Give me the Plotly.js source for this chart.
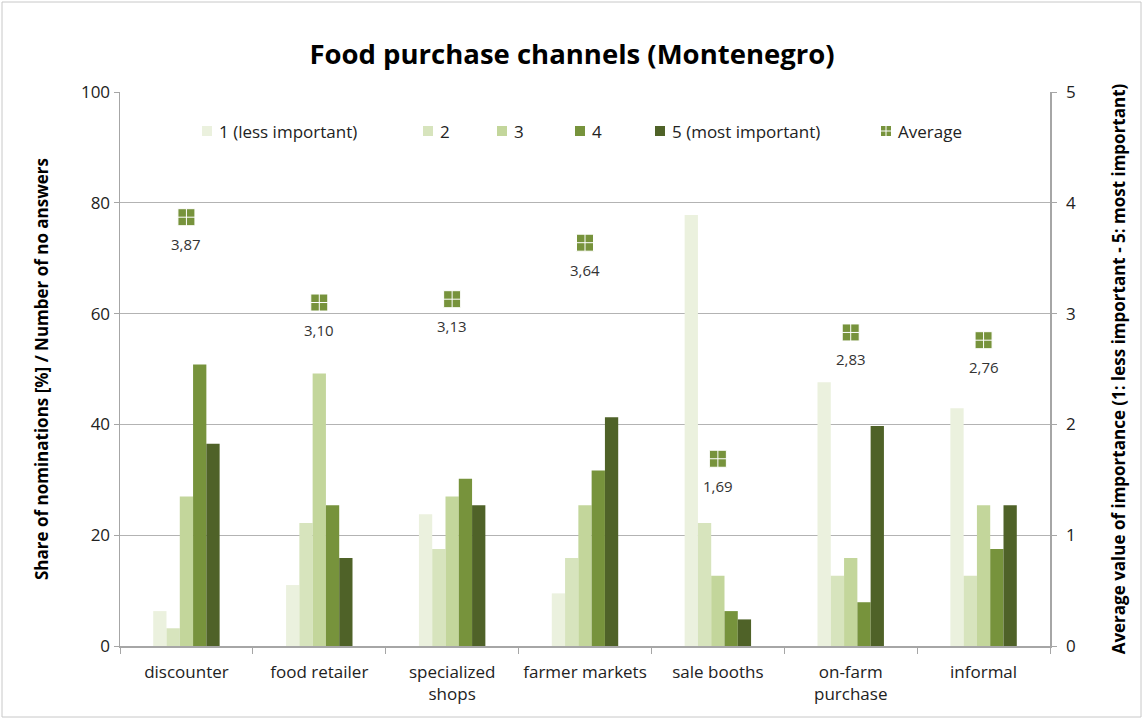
<!DOCTYPE html>
<html><head><meta charset="utf-8">
<script src="https://cdn.plot.ly/plotly-3.0.1.min.js"></script>
<style>html,body{margin:0;padding:0;background:#fff;}#chart{width:1144px;height:719px;}</style>
</head><body><div id="chart"></div>
<script>
var categories = ["discounter", "food retailer", "specialized<br>shops", "farmer markets", "sale booths", "on-farm<br>purchase", "informal"];
var seriesNames = ["1 (less important)", "2", "3", "4", "5 (most important)"];
var s1 = [6.3, 11.0, 23.8, 9.5, 77.8, 47.6, 42.9];
var s2 = [3.2, 22.2, 17.5, 15.9, 22.2, 12.7, 12.7];
var s3 = [27.0, 49.2, 27.0, 25.4, 12.7, 15.9, 25.4];
var s4 = [50.8, 25.4, 30.2, 31.7, 6.3, 7.9, 17.5];
var s5 = [36.5, 15.9, 25.4, 41.3, 4.8, 39.7, 25.4];
var averages = [3.87, 3.10, 3.13, 3.64, 1.69, 2.83, 2.76];
var avgLabels = ["3,87", "3,10", "3,13", "3,64", "1,69", "2,83", "2,76"];
var colors = ["#ebf1de", "#d7e4bd", "#c3d69b", "#77933c", "#4f6228"];
var avgColor = "#77933c";
var FONT = "'Open Sans', Calibri, sans-serif";

var series = [s1, s2, s3, s4, s5];
var traces = series.map(function (vals, i) {
  return {type: "bar", x: categories, y: vals, name: seriesNames[i],
    marker: {color: colors[i]}, showlegend: false, hoverinfo: "y"};
});
traces.push({type: "scatter", mode: "markers", x: categories, y: averages, yaxis: "y2",
  name: "Average", showlegend: false,
  marker: {symbol: "square-cross", size: 17, color: avgColor, line: {color: "#ffffff", width: 1}}});

var annotations = averages.map(function (v, i) {
  return {x: categories[i], y: v, yref: "y2", xref: "x", text: avgLabels[i], showarrow: false,
    yshift: -27, font: {family: FONT, size: 15, color: "#333333"}};
});

var PW = 930, PH = 554;
function px2x(px) { return (px - 120) / PW; }
function py2y(py) { return (646 - py) / PH; }

// custom legend
var legendItems = seriesNames.concat(["Average"]);
var legendX = [202, 423, 497, 575, 655, 881];
var legendColors = colors.concat([avgColor]);
var shapes = [{type: "rect", xref: "paper", yref: "paper", x0: px2x(2), x1: px2x(1141), y0: py2y(717), y1: py2y(2),
  line: {color: "#c8c8c8", width: 1}, fillcolor: "rgba(0,0,0,0)", layer: "below"}];
legendItems.forEach(function (name, i) {
  var px = legendX[i];
  var x0 = px2x(px), x1 = px2x(px + 10);
  var y0 = py2y(136), y1 = py2y(126);
  shapes.push({type: "rect", xref: "paper", yref: "paper", x0: x0, x1: x1, y0: y0, y1: y1,
    line: {width: 0}, fillcolor: legendColors[i]});
  if (name === "Average") {
    var xm = px2x(px + 5), ym = py2y(131);
    shapes.push({type: "line", xref: "paper", yref: "paper", x0: xm, x1: xm, y0: y0, y1: y1, line: {color: "#fff", width: 1}});
    shapes.push({type: "line", xref: "paper", yref: "paper", x0: x0, x1: x1, y0: ym, y1: ym, line: {color: "#fff", width: 1}});
  }
  annotations.push({xref: "paper", yref: "paper", x: px2x(px + 15), y: py2y(131),
    xanchor: "left", yanchor: "middle", text: name, showarrow: false,
    font: {family: FONT, size: 17, color: "#222222"}});
});

var layout = {
  width: 1144, height: 719,
  margin: {l: 120, r: 94, t: 92, b: 73},
  paper_bgcolor: "#ffffff", plot_bgcolor: "#ffffff",
  title: {text: "<b>Food purchase channels (Montenegro)</b>", x: 0.5, xanchor: "center", y: 0.925, yanchor: "middle",
    font: {family: FONT, size: 27.5, color: "#000000"}},
  barmode: "group", bargap: 0.5, bargroupgap: 0,
  showlegend: false,
  xaxis: {type: "category", showline: true, linecolor: "#a6a6a6", linewidth: 1.5, ticks: "outside", tickson: "boundaries",
    ticklen: 6, tickcolor: "#a6a6a6", showgrid: false, ticklabelstandoff: 10,
    tickfont: {family: FONT, size: 17, color: "#222222"}, fixedrange: true},
  yaxis: {range: [0, 100], dtick: 20, showline: true, linecolor: "#a6a6a6", linewidth: 1.5, ticks: "outside", ticklen: 5,
    tickcolor: "#a6a6a6", showgrid: true, gridcolor: "#b3b3b3", gridwidth: 1, zeroline: false,
    tickfont: {family: FONT, size: 17, color: "#222222"},
    title: {text: "<b>Share of nominations [%] / Number of no answers</b>", font: {family: FONT, size: 17, color: "#000"}, standoff: 28}},
  yaxis2: {range: [0, 5], dtick: 1, overlaying: "y", side: "right", showline: true, linecolor: "#a6a6a6", linewidth: 1.5,
    ticks: "outside", ticklen: 5, tickcolor: "#a6a6a6", showgrid: false, zeroline: false, ticklabelstandoff: 6,
    tickfont: {family: FONT, size: 17, color: "#222222"},
    title: {text: "<b>Average value of importance (1: less important - 5: most important)</b>", font: {family: FONT, size: 17, color: "#000"}, standoff: 38}},
  annotations: annotations,
  shapes: shapes
};
Plotly.newPlot("chart", traces, layout, {displayModeBar: false, staticPlot: true});
</script></body></html>
